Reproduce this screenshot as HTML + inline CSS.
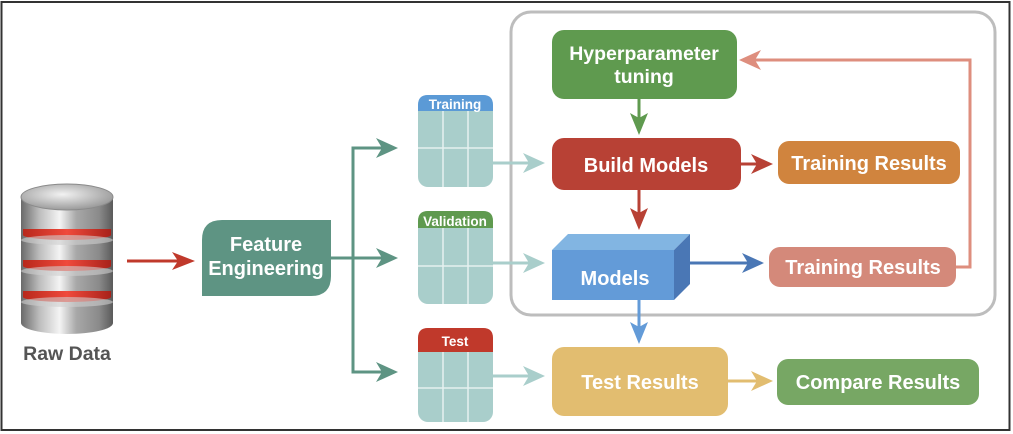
<!DOCTYPE html>
<html><head><meta charset="utf-8"><style>
html,body{margin:0;padding:0;background:#fff}
svg{display:block}
text{font-family:"Liberation Sans",sans-serif;font-weight:bold;fill:#fff}
</style></head><body>
<svg width="1013" height="434" viewBox="0 0 1013 434" xmlns="http://www.w3.org/2000/svg">
<defs>
<linearGradient id="cyl" x1="0" x2="1" y1="0" y2="0">
<stop offset="0" stop-color="#6a6a6a"/><stop offset="0.2" stop-color="#bdbdbd"/><stop offset="0.42" stop-color="#f4f4f4"/><stop offset="0.6" stop-color="#a8a8a8"/><stop offset="0.85" stop-color="#8a8a8a"/><stop offset="1" stop-color="#5a5a5a"/>
</linearGradient>
<linearGradient id="red" x1="0" x2="1"><stop offset="0" stop-color="#b8281c"/><stop offset="0.5" stop-color="#f04a3c"/><stop offset="1" stop-color="#a8221a"/></linearGradient>
<radialGradient id="top" cx="0.45" cy="0.4" r="0.6"><stop offset="0" stop-color="#f2f2f2"/><stop offset="1" stop-color="#9a9a9a"/></radialGradient>
</defs>
<rect x="1.5" y="2" width="1008" height="428" fill="#fff" stroke="#333" stroke-width="2"/>
<rect x="511" y="12" width="484" height="303" rx="20" fill="none" stroke="#bdbdbd" stroke-width="3"/>

<!-- Cylinder -->
<g>
<rect x="21" y="197" width="92" height="126" fill="url(#cyl)"/>
<ellipse cx="67" cy="323" rx="46" ry="11" fill="url(#cyl)"/>
<rect x="23" y="229" width="88" height="6" fill="url(#red)"/>
<ellipse cx="67" cy="235" rx="44" ry="5" fill="url(#red)"/>
<ellipse cx="67" cy="240" rx="46" ry="5" fill="#cfcfcf" opacity="0.6"/>
<rect x="23" y="260" width="88" height="6" fill="url(#red)"/>
<ellipse cx="67" cy="266" rx="44" ry="5" fill="url(#red)"/>
<ellipse cx="67" cy="271" rx="46" ry="5" fill="#cfcfcf" opacity="0.6"/>
<rect x="23" y="291" width="88" height="6" fill="url(#red)"/>
<ellipse cx="67" cy="297" rx="44" ry="5" fill="url(#red)"/>
<ellipse cx="67" cy="302" rx="46" ry="5" fill="#cfcfcf" opacity="0.6"/>
<ellipse cx="67" cy="197" rx="46" ry="13" fill="url(#top)" stroke="#8a8a8a"/>
</g>
<text x="67" y="360" text-anchor="middle" font-size="19.5" style="fill:#555">Raw Data</text>

<line x1="127" y1="261" x2="180" y2="261" stroke="#c0392b" stroke-width="3"/>
<polygon points="195,261 172,252 178,261 172,270" fill="#c0392b"/>

<path d="M222,220 H331 V276 Q331,296 311,296 H202 V240 Q202,220 222,220 Z" fill="#5e9483"/>
<text x="266" y="251" text-anchor="middle" font-size="20">Feature</text>
<text x="266" y="275" text-anchor="middle" font-size="20">Engineering</text>

<g stroke="#5e9483" stroke-width="3" fill="none">
<line x1="331" y1="258" x2="388" y2="258"/>
<polyline points="388,148 353,148 353,372 388,372"/>
</g>
<g fill="#5e9483">
<polygon points="398,148 376,138 382,148 376,158"/>
<polygon points="398,258 376,248 382,258 376,268"/>
<polygon points="398,372 376,362 382,372 376,382"/>
</g>

<g>
<rect x="418" y="95" width="75" height="92" rx="10" fill="#a9cecb"/>
<path d="M428,95 H483 Q493,95 493,105 V111 H418 V105 Q418,95 428,95Z" fill="#5b9ad6"/>
<g stroke="#e6f1f0" stroke-width="1.5"><line x1="443" y1="111" x2="443" y2="187"/><line x1="468" y1="111" x2="468" y2="187"/><line x1="418" y1="148" x2="493" y2="148"/></g>
<text x="455" y="109" text-anchor="middle" font-size="13.5">Training</text>

<rect x="418" y="211" width="75" height="93" rx="10" fill="#a9cecb"/>
<path d="M428,211 H483 Q493,211 493,221 V228 H418 V221 Q418,211 428,211Z" fill="#5f9a4f"/>
<g stroke="#e6f1f0" stroke-width="1.5"><line x1="443" y1="228" x2="443" y2="304"/><line x1="468" y1="228" x2="468" y2="304"/><line x1="418" y1="266" x2="493" y2="266"/></g>
<text x="455" y="226" text-anchor="middle" font-size="13.5">Validation</text>

<rect x="418" y="328" width="75" height="94" rx="10" fill="#a9cecb"/>
<path d="M428,328 H483 Q493,328 493,338 V352 H418 V338 Q418,328 428,328Z" fill="#c0392b"/>
<g stroke="#e6f1f0" stroke-width="1.5"><line x1="443" y1="352" x2="443" y2="422"/><line x1="468" y1="352" x2="468" y2="422"/><line x1="418" y1="388" x2="493" y2="388"/></g>
<text x="455" y="346" text-anchor="middle" font-size="13.5">Test</text>
</g>

<g stroke="#a9cecb" stroke-width="3"><line x1="493" y1="163" x2="535" y2="163"/><line x1="493" y1="263" x2="535" y2="263"/><line x1="493" y1="376" x2="535" y2="376"/></g>
<g fill="#a9cecb">
<polygon points="545,163 523,153 529,163 523,173"/>
<polygon points="545,263 523,253 529,263 523,273"/>
<polygon points="545,376 523,366 529,376 523,386"/>
</g>

<rect x="552" y="30" width="185" height="69" rx="12" fill="#5f9a4f"/>
<text x="644" y="60" text-anchor="middle" font-size="19.5">Hyperparameter</text>
<text x="644" y="83" text-anchor="middle" font-size="19.5">tuning</text>
<line x1="639" y1="99" x2="639" y2="120" stroke="#5f9a4f" stroke-width="3"/>
<polygon points="639,135 630,113 639,118 648,113" fill="#5f9a4f"/>

<rect x="552" y="138" width="189" height="52" rx="12" fill="#b84135"/>
<text x="646" y="172" text-anchor="middle" font-size="20">Build Models</text>
<line x1="639" y1="190" x2="639" y2="215" stroke="#b84135" stroke-width="3"/>
<polygon points="639,230 630,208 639,213 648,208" fill="#b84135"/>
<line x1="741" y1="164" x2="760" y2="164" stroke="#b84135" stroke-width="3"/>
<polygon points="773,164 751,154 757,164 751,174" fill="#b84135"/>

<rect x="778" y="141" width="182" height="43" rx="11" fill="#d0843e"/>
<text x="869" y="170" text-anchor="middle" font-size="20">Training Results</text>

<polygon points="552,250 568,234 690,234 674,250" fill="#82b5e2"/>
<polygon points="674,250 690,234 690,284 674,300" fill="#4a77b5"/>
<rect x="552" y="250" width="122" height="50" fill="#639bd8"/>
<text x="615" y="285" text-anchor="middle" font-size="20">Models</text>
<line x1="690" y1="263" x2="750" y2="263" stroke="#4a77b5" stroke-width="3"/>
<polygon points="764,263 742,253 748,263 742,273" fill="#4a77b5"/>

<rect x="769" y="247" width="187" height="40" rx="11" fill="#d4897a"/>
<text x="863" y="274" text-anchor="middle" font-size="20">Training Results</text>
<polyline points="956,267 970,267 970,60 752,60" fill="none" stroke="#de8e7e" stroke-width="3"/>
<polygon points="739,60 761,50 755,60 761,70" fill="#de8e7e"/>

<line x1="639" y1="300" x2="639" y2="330" stroke="#639bd8" stroke-width="3"/>
<polygon points="639,344 630,322 639,327 648,322" fill="#639bd8"/>

<rect x="552" y="347" width="176" height="69" rx="12" fill="#e2bd70"/>
<text x="640" y="389" text-anchor="middle" font-size="20">Test Results</text>
<line x1="728" y1="381" x2="760" y2="381" stroke="#e2bd70" stroke-width="3"/>
<polygon points="773,381 751,371 757,381 751,391" fill="#e2bd70"/>

<rect x="777" y="359" width="202" height="46" rx="11" fill="#77a764"/>
<text x="878" y="389" text-anchor="middle" font-size="20">Compare Results</text>
</svg>
</body></html>
